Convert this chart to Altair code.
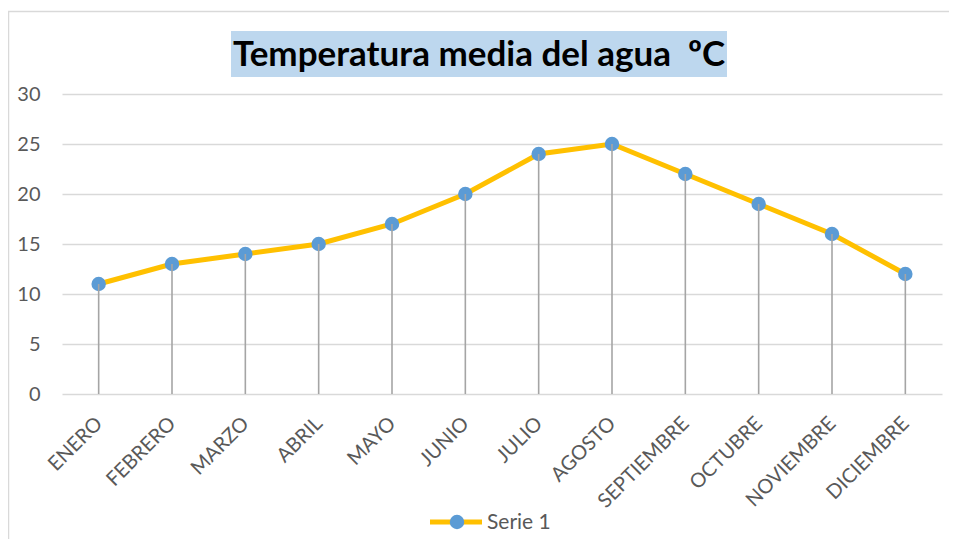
import altair as alt
import pandas as pd

months = ["ENERO", "FEBRERO", "MARZO", "ABRIL", "MAYO", "JUNIO", "JULIO",
          "AGOSTO", "SEPTIEMBRE", "OCTUBRE", "NOVIEMBRE", "DICIEMBRE"]
temps = [11, 13, 14, 15, 17, 20, 24, 25, 22, 19, 16, 12]
series_name = "Serie 1"
title_text = "Temperatura media del agua \u00a0ºC"

df = pd.DataFrame({"mes": months, "temp": temps})
one = pd.DataFrame({"serie": [series_name], "titulo": [title_text]})

FONT = "Lato"
GRAY_TXT = "#595959"

x = alt.X("mes:N", sort=months, title=None,
          scale=alt.Scale(type="point", padding=0.5),
          axis=alt.Axis(labelAngle=-45, labelFontSize=20, labelColor=GRAY_TXT,
                        labelFont=FONT, ticks=False, domain=False, labelPadding=19,
                        labelOffset=-7, grid=False))
y = alt.Y("temp:Q", title=None,
          scale=alt.Scale(domain=[0, 30]),
          axis=alt.Axis(values=[0, 5, 10, 15, 20, 25, 30], labelFontSize=20,
                        labelColor=GRAY_TXT, labelFont=FONT, ticks=False,
                        domain=False, labelPadding=22, gridColor="#D9D9D9",
                        gridWidth=1.5))

base = alt.Chart(df)

frame = alt.Chart(one).mark_rect(fill=None, stroke="#D9D9D9", strokeWidth=1.5).encode(
    x=alt.value(-53.5), x2=alt.value(894), y=alt.value(-82.5), y2=alt.value(480))

title_bg = alt.Chart(one).mark_rect(color="#BDD7EE").encode(
    x=alt.value(169), x2=alt.value(665), y=alt.value(-63), y2=alt.value(-17))
title = alt.Chart(one).mark_text(align="center", baseline="alphabetic", fontSize=35,
                                 fontWeight="bold", font=FONT, color="black").encode(
    x=alt.value(417), y=alt.value(-28), text="titulo:N")

line = base.mark_line(color="#FFC000", strokeWidth=5).encode(x=x, y=y)
points = base.mark_point(filled=True, shape="circle", size=210, opacity=1,
                         color="#5B9BD5").encode(x=x, y=y)
drops = base.mark_rule(color="#A5A5A5", strokeWidth=1.6).encode(
    x=x, y=y, y2=alt.datum(0))

leg_line = alt.Chart(one).mark_rule(color="#FFC000", strokeWidth=5).encode(
    x=alt.value(368), x2=alt.value(420), y=alt.value(428))
leg_pt = alt.Chart(one).mark_point(filled=True, shape="circle", size=210, opacity=1,
                                   color="#5B9BD5").encode(
    x=alt.value(395), y=alt.value(428))
leg_txt = alt.Chart(one).mark_text(align="left", baseline="middle", fontSize=21,
                                   font=FONT, color=GRAY_TXT).encode(
    x=alt.value(425), y=alt.value(429), text="serie:N")

chart = alt.layer(frame, title_bg, title, line, points, drops,
                  leg_line, leg_pt, leg_txt).properties(
    width=880, height=300,
    autosize=alt.AutoSizeParams(type="none"),
    padding={"left": 54, "top": 86, "right": 7, "bottom": 145},
).configure_view(stroke=None)

chart.save("out.html", embed_options={"renderer": "svg", "actions": False})
